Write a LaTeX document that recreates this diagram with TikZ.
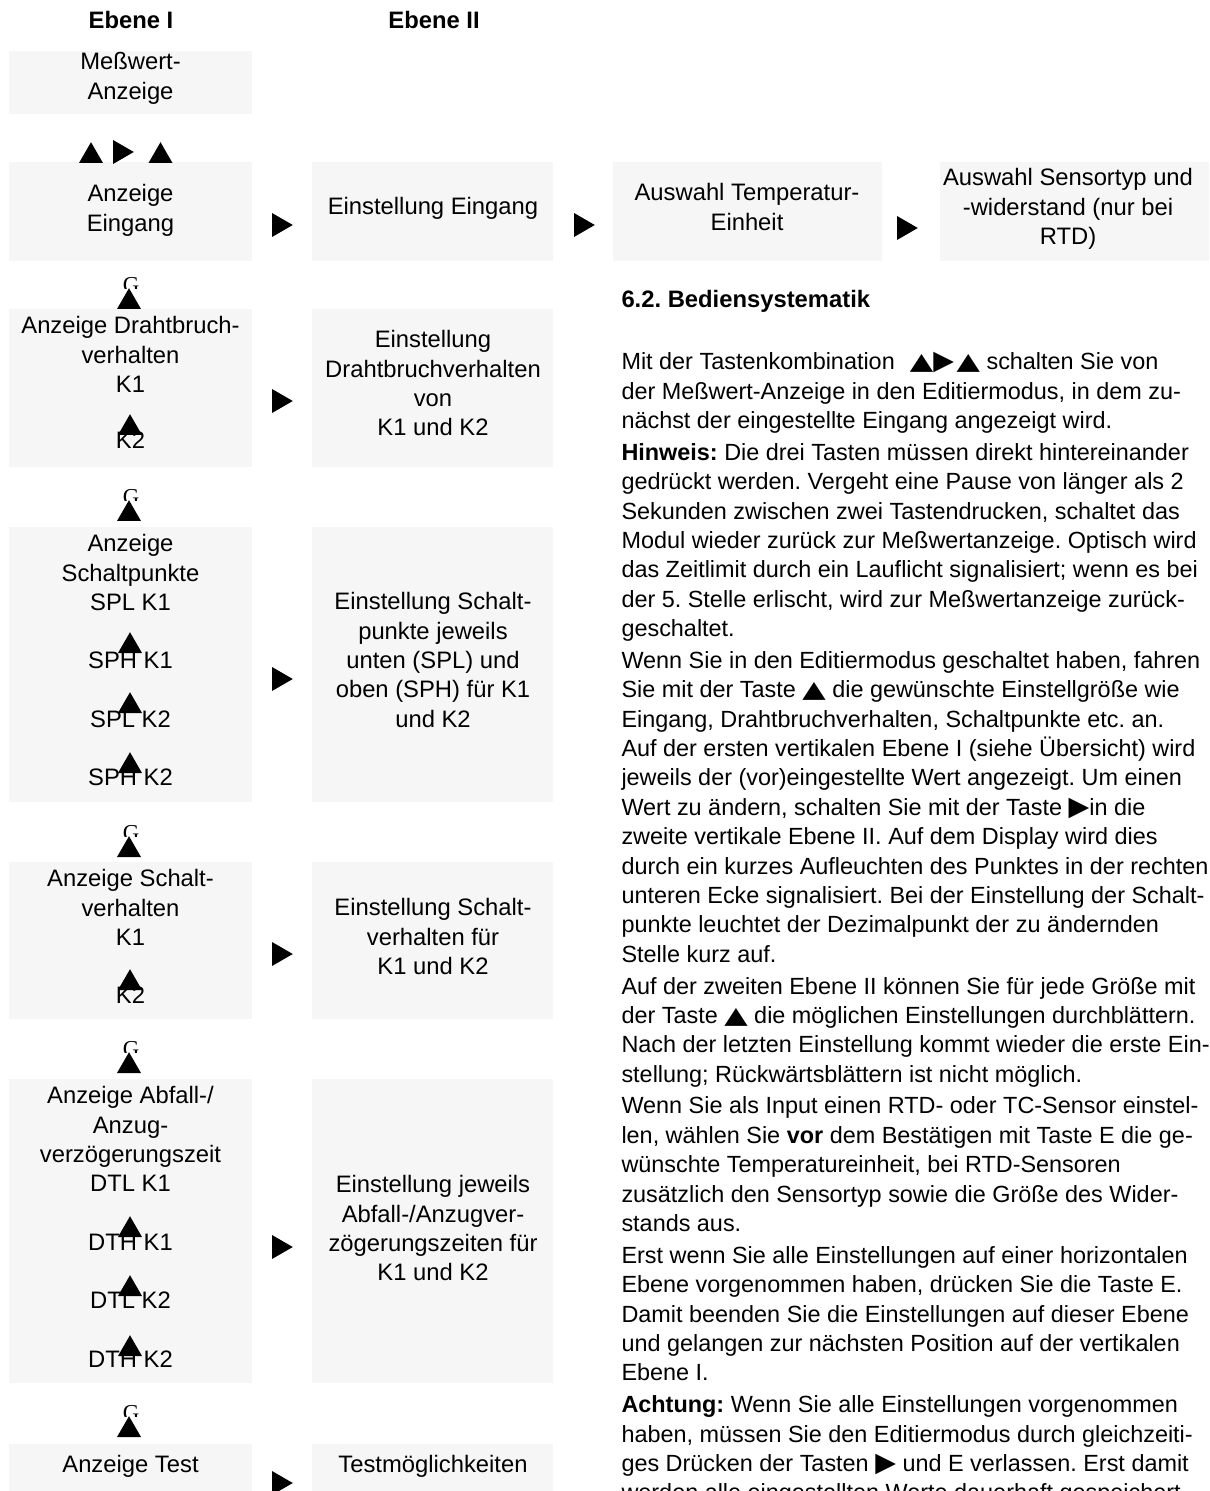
\documentclass[tikz,border=0pt]{standalone}
\usepackage{fontspec}
\setmainfont{Liberation Sans}
\newfontfamily\keyfont{DejaVu Sans}
\newfontfamily\gfont{Liberation Serif}
\usepackage{graphicx}
\usetikzlibrary{positioning,fit,shapes.geometric}
\definecolor{boxgray}{RGB}{246,246,246}
\frenchspacing
\newcommand{\keyup}{{\keyfont\scalebox{1.3}[1]{▲}}}
\newcommand{\keynext}{{\keyfont\scalebox{1.15}{▶}}}
\tikzset{
  panel/.style={fill=boxgray, draw=none, inner sep=0pt},
  lbl/.style={anchor=base, inner sep=0pt},
  blk/.style={anchor=north, inner sep=0pt, align=center},
  upkey/.style={regular polygon, regular polygon sides=3, fill=black, draw=none, inner sep=0pt, outer sep=0pt, minimum size=10.95pt, anchor=south},
  nextkey/.style={upkey, shape border rotate=-90, anchor=west},
  gmark/.style={font=\gfont\fontsize{9}{10}\selectfont, inner sep=0pt, anchor=base, xshift=0.8pt, yshift=-1.6pt},
}
\begin{document}
\begin{tikzpicture}[x=0.013889cm, y=-0.013889cm, font=\fontsize{9.4}{11.6}\selectfont]
\useasboundingbox (0,0) rectangle (1209,1491);
% headers
\node[lbl, font=\fontsize{9.4}{11.6}\selectfont\bfseries] (hdA) at (131,29) {Ebene I};
\node[lbl, font=\fontsize{9.4}{11.6}\selectfont\bfseries] (hdB) at (434,29) {Ebene II};
% boxes
\node[panel, fit={(9,51) (252,114)}] (messA) {};
\node[panel, fit={(9,162) (252,261)}] (einA) {};
\node[panel, fit={(312,162) (553,261)}] (einB) {};
\node[panel, fit={(613,162) (882,261)}] (einC) {};
\node[panel, fit={(940,162) (1209,261)}] (einD) {};
\node[panel, fit={(9,309) (252,467)}] (drahtA) {};
\node[panel, fit={(312,309) (553,467)}] (drahtB) {};
\node[panel, fit={(9,527) (252,802)}] (spA) {};
\node[panel, fit={(312,527) (553,802)}] (spB) {};
\node[panel, fit={(9,862) (252,1019)}] (svA) {};
\node[panel, fit={(312,862) (553,1019)}] (svB) {};
\node[panel, fit={(9,1079) (252,1383)}] (dtA) {};
\node[panel, fit={(312,1079) (553,1383)}] (dtB) {};
\node[panel, fit={(9,1444) (252,1500)}] (testA) {};
\node[panel, fit={(312,1444) (553,1500)}] (testB) {};
% Ebene I texts
\node[blk] (messT) at (130.5,52) {Meßwert-\\Anzeige};
\node[blk] (einT) at (130.5,184) {Anzeige\\Eingang};
\node[blk] (drahtT) at (130.5,316) {Anzeige Drahtbruch-\\verhalten\\K1};
\node[lbl] (drahtK2) at (130.5,449) {K2};
\node[blk] (spT) at (130.5,534) {Anzeige\\Schaltpunkte\\SPL K1};
\node[lbl] (sph1) at (130.5,668) {SPH K1};
\node[lbl] (spl2) at (130.5,727) {SPL K2};
\node[lbl] (sph2) at (130.5,785) {SPH K2};
\node[blk] (svT) at (130.5,869) {Anzeige Schalt-\\verhalten\\K1};
\node[lbl] (svK2) at (130.5,1003) {K2};
\node[blk] (dtT) at (130.5,1086) {Anzeige Abfall-/\\Anzug-\\verzögerungszeit\\DTL K1};
\node[lbl] (dth1) at (130.5,1250) {DTH K1};
\node[lbl] (dtl2) at (130.5,1308) {DTL K2};
\node[lbl] (dth2) at (130.5,1367) {DTH K2};
\node[lbl] (testT) at (130.5,1472) {Anzeige Test};
% Ebene II texts
\node[lbl] (einBT) at (433,215) {Einstellung Eingang};
\node[blk] (einCT) at (747,183) {Auswahl Temperatur-\\Einheit};
\node[blk] (einDT) at (1068,168) {Auswahl Sensortyp und\\-widerstand (nur bei\\RTD)};
\node[blk] (drahtBT) at (433,330) {Einstellung\\Drahtbruchverhalten\\von\\K1 und K2};
\node[blk] (spBT) at (433,592) {Einstellung Schalt-\\punkte jeweils\\unten (SPL) und\\oben (SPH) für K1\\und K2};
\node[blk] (svBT) at (433,898) {Einstellung Schalt-\\verhalten für\\K1 und K2};
\node[blk] (dtBT) at (433,1175) {Einstellung jeweils\\Abfall-/Anzugver-\\zögerungszeiten für\\K1 und K2};
\node[lbl] (testBT) at (433,1472) {Testmöglichkeiten};
% key combination
\node[upkey] (startA) at (91,163) {};
\node[nextkey] (startB) at (113,152) {};
\node[upkey] (startC) at (160.5,163) {};
% up keys between and inside the boxes
\node[upkey] (upA) at (129,309) {};
\node[upkey] (upB) at (129,521) {};
\node[upkey] (upC) at (129,857) {};
\node[upkey] (upD) at (129,1073) {};
\node[upkey] (upE) at (129,1437) {};
\foreach \k in {upA,upB,upC,upD,upE}{
  \begin{scope}
    \clip (\k.north) ++(-20,-20) rectangle ++(40,20);
    \node[gmark] (g\k) at (\k.north) {G};
  \end{scope}
}
\node[upkey] (inA) at (130,435) {};
\node[upkey] (inB) at (130,653) {};
\node[upkey] (inC) at (130,713) {};
\node[upkey] (inD) at (130,773) {};
\node[upkey] (inE) at (130,990) {};
\node[upkey] (inF) at (130,1237) {};
\node[upkey] (inG) at (130,1296) {};
\node[upkey] (inH) at (130,1356) {};
% next keys
\node[nextkey] (nxA) at (272,225) {};
\node[nextkey] (nxB) at (574,225) {};
\node[nextkey] (nxC) at (897,228) {};
\node[nextkey] (nxD) at (272,401) {};
\node[nextkey] (nxE) at (272,679) {};
\node[nextkey] (nxF) at (272,954) {};
\node[nextkey] (nxG) at (272,1247) {};
\node[nextkey] (nxH) at (272,1483) {};
% description
\node[lbl, anchor=base west, font=\fontsize{9.4}{11.6}\selectfont\bfseries] (head) at (621,308) {6.2. Bediensystematik};
\node[blk, anchor=north west, align=left, font=\fontsize{9.25}{11.6}\selectfont] (descr) at (621,352) {%
Mit der Tastenkombination\hspace{6pt}\keyup\keynext\hspace{1pt}\keyup\ schalten Sie von\\
der Meßwert-Anzeige in den Editiermodus, in dem zu-\\
nächst der eingestellte Eingang angezeigt wird.\\[1pt]
\textbf{Hinweis:} Die drei Tasten müssen direkt hintereinander\\
gedrückt werden. Vergeht eine Pause von länger als 2\\
Sekunden zwischen zwei Tastendrucken, schaltet das\\
Modul wieder zurück zur Meßwertanzeige. Optisch wird\\
das Zeitlimit durch ein Lauflicht signalisiert; wenn es bei\\
der 5. Stelle erlischt, wird zur Meßwertanzeige zurück-\\
geschaltet.\\[1pt]
Wenn Sie in den Editiermodus geschaltet haben, fahren\\
Sie mit der Taste \keyup{} die gewünschte Einstellgröße wie\\
Eingang, Drahtbruchverhalten, Schaltpunkte etc. an.\\
Auf der ersten vertikalen Ebene I (siehe Übersicht) wird\\
jeweils der (vor)eingestellte Wert angezeigt. Um einen\\
Wert zu ändern, schalten Sie mit der Taste \keynext{}in die\\
zweite vertikale Ebene II. Auf dem Display wird dies\\
durch ein kurzes Aufleuchten des Punktes in der rechten\\
unteren Ecke signalisiert. Bei der Einstellung der Schalt-\\
punkte leuchtet der Dezimalpunkt der zu ändernden\\
Stelle kurz auf.\\[1pt]
Auf der zweiten Ebene II können Sie für jede Größe mit\\
der Taste \keyup{} die möglichen Einstellungen durchblättern.\\
Nach der letzten Einstellung kommt wieder die erste Ein-\\
stellung; Rückwärtsblättern ist nicht möglich.\\[1pt]
Wenn Sie als Input einen RTD- oder TC-Sensor einstel-\\
len, wählen Sie \textbf{vor} dem Bestätigen mit Taste E die ge-\\
wünschte Temperatureinheit, bei RTD-Sensoren\\
zusätzlich den Sensortyp sowie die Größe des Wider-\\
stands aus.\\[1pt]
Erst wenn Sie alle Einstellungen auf einer horizontalen\\
Ebene vorgenommen haben, drücken Sie die Taste E.\\
Damit beenden Sie die Einstellungen auf dieser Ebene\\
und gelangen zur nächsten Position auf der vertikalen\\
Ebene I.\\[1pt]
\textbf{Achtung:} Wenn Sie alle Einstellungen vorgenommen\\
haben, müssen Sie den Editiermodus durch gleichzeiti-\\
ges Drücken der Tasten \keynext{} und E verlassen. Erst damit\\
werden alle eingestellten Werte dauerhaft gespeichert.};
\end{tikzpicture}
\end{document}
